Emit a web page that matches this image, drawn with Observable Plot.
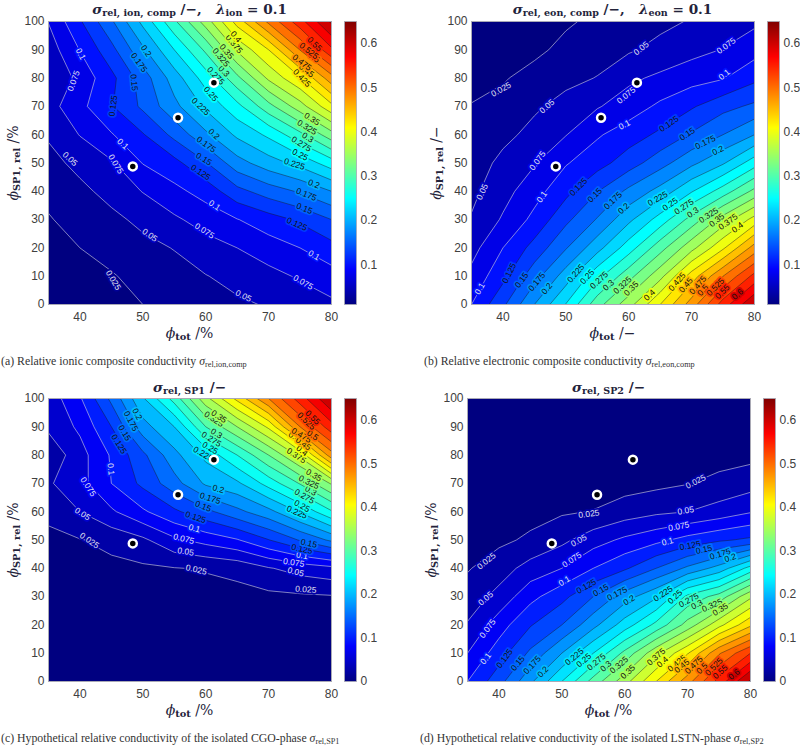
<!DOCTYPE html>
<html><head><meta charset="utf-8">
<script src="https://cdn.jsdelivr.net/npm/d3@7"></script>
<script src="https://cdn.jsdelivr.net/npm/@observablehq/plot@0.6"></script>
<style>
html,body{margin:0;padding:0;background:#fff}
#root{position:relative;width:800px;height:746px;overflow:hidden}
#root svg{position:absolute;background:none}
.t{position:absolute;white-space:nowrap;transform:translate(-50%,-50%);font-family:"DejaVu Serif",serif;color:#23233a}
.title{font-weight:bold;font-size:13.6px}
.ax{font-size:14px}
.ax b{font-weight:bold}
.cap{transform:translate(0,-50%);font-family:"Liberation Serif",serif;font-size:11.8px;color:#333}
sub{font-size:70%;line-height:0;vertical-align:-0.25em}
.rot{transform:translate(-50%,-50%) rotate(-90deg)}
</style></head><body><div id="root"></div>
<script>
// grid axes of every panel
const phiTot = [35,40,45,50,55,60,65,70,75,80];
const phiRel = [100,90,80,70,60,50,40,30,20,10,0];
const levels = [0,.025,.05,.075,.1,.125,.15,.175,.2,.225,.25,.275,.3,.325,.35,.375,.4,.425,.45,.475,.5,.525,.55,.575,.6,.625];

// conductivities, rows from phiRel = 100 down to 0
const sigmaIon = [
 .076,.122,.171,.232,.295,.362,.435,.506,.565,.63,
 .062,.101,.142,.195,.25,.305,.379,.425,.501,.57,
 .05,.083,.118,.162,.212,.262,.318,.38,.422,.49,
 .065,.093,.123,.155,.193,.23,.267,.316,.364,.418,
 .053,.076,.098,.123,.157,.195,.23,.255,.293,.34,
 .042,.057,.072,.101,.117,.148,.19,.214,.233,.263,
 .032,.044,.058,.076,.093,.11,.142,.162,.178,.2,
 .023,.035,.044,.056,.071,.085,.099,.114,.129,.15,
 .017,.025,.034,.043,.051,.065,.075,.088,.1,.116,
 .012,.017,.023,.033,.041,.049,.058,.067,.078,.09,
 .01,.013,.018,.025,.032,.039,.046,.052,.06,.07];
const sigmaEon = [
 .01,.012,.016,.022,.03,.037,.044,.052,.06,.07,
 .012,.016,.02,.031,.039,.047,.057,.067,.076,.09,
 .018,.023,.033,.043,.051,.07,.08,.09,.098,.119,
 .026,.032,.046,.059,.073,.087,.105,.122,.142,.155,
 .032,.043,.058,.074,.097,.113,.13,.153,.175,.2,
 .036,.057,.073,.098,.115,.138,.165,.194,.222,.264,
 .044,.066,.09,.118,.149,.181,.209,.248,.287,.332,
 .052,.078,.107,.144,.177,.219,.261,.31,.361,.41,
 .066,.1,.134,.173,.216,.263,.315,.367,.421,.486,
 .082,.118,.165,.212,.267,.316,.367,.437,.5,.558,
 .1,.145,.2,.251,.315,.365,.425,.487,.562,.625];
const sigmaSP1 = [
 .06,.097,.156,.222,.285,.367,.432,.5,.562,.625,
 .055,.08,.125,.19,.225,.3,.35,.405,.5,.565,
 .032,.065,.103,.144,.192,.232,.275,.325,.382,.49,
 .047,.066,.1,.131,.165,.204,.22,.26,.302,.353,
 .028,.05,.071,.096,.12,.143,.168,.192,.228,.272,
 .022,.024,.033,.045,.07,.084,.098,.124,.152,.18,
 .012,.014,.018,.021,.024,.027,.032,.048,.06,.068,
 .003,.005,.007,.009,.012,.015,.017,.019,.021,.023,
 .002,.002,.003,.004,.005,.006,.007,.008,.009,.01,
 .001,.001,.001,.002,.002,.002,.003,.003,.004,.004,
 0,0,0,0,0,0,0,0,0,0];
const sigmaSP2 = [
 .001,.001,.001,.001,.002,.002,.003,.003,.004,.005,
 .002,.002,.003,.003,.004,.005,.006,.007,.008,.01,
 .003,.004,.005,.006,.007,.008,.01,.012,.015,.018,
 .005,.006,.008,.01,.012,.015,.019,.024,.032,.0395,
 .01,.013,.017,.022,.026,.037,.045,.05,.06,.073,
 .018,.02,.029,.044,.064,.08,.093,.109,.121,.13,
 .023,.038,.06,.075,.1,.121,.15,.18,.21,.26,
 .036,.058,.092,.117,.15,.188,.221,.281,.31,.37,
 .052,.088,.123,.15,.192,.237,.282,.335,.392,.445,
 .075,.113,.155,.2,.25,.307,.368,.423,.497,.55,
 .1,.14,.195,.25,.31,.365,.425,.49,.56,.63];

// operating points
const pointTot = [48.4,55.6,61.3];
const pointRel = [48.8,66,78.4];

// contour labels: level, phiTot, phiRel
const labelsIon = [[.025,45.3,8.6],[.05,38.4,51.4],[.05,51.1,24.5],[.05,66,3],[.075,39,79],[.075,45.7,49.6],[.075,59.8,26],[.075,75.5,7.8],[.1,40.1,88.5],[.1,46.8,56.7],[.1,61.4,35],[.1,77.2,17.4],[.125,45.3,70.2],[.125,59.2,46.7],[.125,74.5,28.4],[.15,48.6,78.5],[.15,59.7,51.4],[.15,75.7,33.9],[.175,49.4,85.5],[.175,60.1,56.5],[.175,76,38.9],[.2,50.5,89.6],[.2,61.3,60.2],[.2,77.2,42.6],[.225,59.2,69.9],[.225,74.1,49.6],[.25,60.8,74.4],[.25,75,52.9],[.275,61.6,80.8],[.275,75.2,56.7],[.3,62.9,82.4],[.3,76.2,59],[.325,62.4,87.3],[.325,76.1,62.6],[.35,63.3,89.4],[.35,76.9,65.5],[.375,64.5,92],[.4,64.8,94.6],[.425,75.3,80],[.45,76,82.6],[.475,75.3,85.5],[.5,77.2,87.3],[.525,76.4,89.6],[.55,77.3,92]];
const labelsEon = [[.025,39.7,76],[.05,47,70],[.05,62,90.5],[.05,36.7,39.8],[.075,45.5,50.8],[.075,59.6,73.9],[.075,75.5,91.4],[.1,36.3,5.6],[.1,46.2,38],[.1,59.3,63.5],[.1,75.2,81.2],[.125,41,11],[.125,52,41.5],[.125,66.4,63.8],[.15,43,8.6],[.15,54.6,38.6],[.15,69.3,60.2],[.175,45.4,8],[.175,57.5,36.7],[.175,72.2,57.3],[.2,47,5.6],[.2,59.2,33.9],[.2,74.2,54.4],[.225,51.6,11],[.225,64.6,37.4],[.25,53.4,9.8],[.25,66.6,35.4],[.275,55.3,8.6],[.275,68.8,34.5],[.3,56.8,6.8],[.3,70.2,32.5],[.325,59,6.8],[.325,72.7,31.5],[.35,60.4,5.6],[.35,74,29.8],[.375,75.8,29.2],[.4,63.3,3.3],[.4,77.3,27.2],[.425,67.7,8],[.45,69.1,6.8],[.475,71,6.8],[.5,71.8,5],[.525,73.8,6.2],[.55,74.9,4.5],[.6,77.3,3.6]];
const labelsSP1 = [[.025,41.5,49.8],[.025,58.5,39.5],[.025,75.9,32.5],[.05,40.4,59.2],[.05,56.8,45.9],[.05,74.3,38.7],[.075,41.3,68.8],[.075,56.5,50.4],[.075,74,42],[.1,44.9,75],[.1,58.2,54.1],[.1,75.3,44.5],[.125,46.2,83.9],[.125,58.4,58],[.125,75.3,46.8],[.15,47.1,87.8],[.15,59.6,61.9],[.15,76.4,48.8],[.175,48.1,92],[.175,60.7,64.7],[.2,49.1,94.5],[.2,62,68],[.225,59.6,80.4],[.225,74.5,59.8],[.25,60.7,82.5],[.25,75.3,62],[.275,60.9,85.6],[.275,75.7,65.4],[.3,61.7,87.6],[.3,76.7,67.4],[.325,61.3,92.7],[.325,76.4,70.4],[.35,62.1,93.6],[.35,77.2,72.9],[.375,74.4,79.8],[.4,75.3,81.5],[.425,74.7,85.6],[.45,75.5,84],[.475,75.2,87],[.5,77,87],[.525,76,92],[.55,77,93.3]];
const labelsSP2 = [[.025,71.3,70.6],[.025,54.3,59.2],[.025,38,42.5],[.05,69.7,60.4],[.05,52.7,49.8],[.05,37.9,29.3],[.075,68.6,54.8],[.075,51.6,43],[.075,38.2,18.7],[.1,66.8,49.4],[.1,50.4,35.5],[.1,37.9,8.1],[.125,70.4,48],[.125,53.9,33.6],[.125,40.9,8.1],[.15,72.6,46.6],[.15,56.2,32.2],[.15,43,6.4],[.175,75.2,45],[.175,58.8,31],[.175,45.3,5.8],[.2,76.8,43.7],[.2,60.7,28.7],[.2,47,3.4],[.225,66.1,31],[.225,52,8.7],[.25,68,29.9],[.25,53.5,7.5],[.275,70.2,28.7],[.275,55.5,6.9],[.3,71.5,27.2],[.3,57,5.4],[.325,73.9,26.9],[.325,59.1,5.8],[.35,75.2,25.4],[.35,60.5,3.4],[.375,65,8.7],[.4,66,6.9],[.425,68.3,6.4],[.45,69.1,5.4],[.475,71,5.8],[.5,72.3,4.6],[.525,74.2,5.2],[.55,75.2,3.4],[.6,77.4,2.5]];

// jet colour map
const jetPos = [0,.125,.375,.625,.875,1];
const jetColors = ["#000080","#0000ff","#00ffff","#ffff00","#ff0000","#800000"];
const xTicks = [40,50,60,70,80];
const yTicks = [0,10,20,30,40,50,60,70,80,90,100];

const W = 283, H = 283;
const root = document.getElementById("root");
const font = {fontFamily:'"Liberation Sans",Arial,sans-serif',fontSize:"12px",color:"#404040",background:"none",overflow:"visible"};

function place(svg,left,top){svg.style.left=left+"px";svg.style.top=top+"px";root.appendChild(svg);}
function text(html,cls,x,y){const d=document.createElement("div");d.className="t "+cls;d.innerHTML=html;d.style.left=x+"px";d.style.top=y+"px";root.appendChild(d);}

function angleAt(values,x,y){
  const dx=phiTot[1]-phiTot[0], dy=phiRel[0]-phiRel[1];
  const nx=phiTot.length, ny=phiRel.length;
  const i=Math.min(nx-2,Math.floor((x-phiTot[0])/dx));
  const j=Math.min(ny-2,Math.floor((phiRel[0]-y)/dy));
  const u=(x-phiTot[i])/dx, w=(phiRel[j]-y)/dy;
  const v=(a,b)=>values[b*nx+a];
  const gx=((1-w)*(v(i+1,j)-v(i,j))+w*(v(i+1,j+1)-v(i,j+1)))/(dx*W/(phiTot[nx-1]-phiTot[0]));
  const gy=((1-u)*(v(i,j+1)-v(i,j))+u*(v(i+1,j+1)-v(i+1,j)))/(dy*H/(phiRel[0]-phiRel[ny-1]));
  let a=Math.atan2(gy,gx)*180/Math.PI+90;
  while(a>90)a-=180; while(a<-90)a+=180;
  return a;
}

function panel(o){
  const color={type:"linear",clamp:true,domain:jetPos.map(p=>o.lo+p*(.65-o.lo)),range:jetColors};
  const grid={width:phiTot.length,height:phiRel.length,x1:32.5,x2:82.5,y1:105,y2:-5,value:Plot.identity,clip:"frame"};
  const fmt=v=>String(+v.toFixed(3));
  const labelOpts=()=>({x:d=>d[1],y:d=>d[2],text:d=>fmt(d[0]),rotate:d=>angleAt(o.values,d[1],d[2]),fontSize:8.5,clip:"frame",
     stroke:d=>d[0],strokeWidth:3.5,strokeLinejoin:"round"});
  const fig=Plot.plot({
    width:W+36,height:H+25,marginLeft:30,marginRight:6,marginTop:3,marginBottom:22,style:font,
    x:{domain:[35,80],ticks:xTicks,label:null,tickSize:0,tickPadding:8},
    y:{domain:[0,100],ticks:yTicks,label:null,tickSize:0,tickPadding:4},
    color,
    marks:[
      Plot.contour(o.values,{...grid,thresholds:levels,fill:"value",stroke:"none"}),
      Plot.contour(o.values,{...grid,thresholds:levels.filter(l=>l>0&&l<=.1),stroke:"#c4c4dc",strokeWidth:.65,fill:"none"}),
      Plot.contour(o.values,{...grid,thresholds:levels.filter(l=>l>.1),stroke:"#1a1a1a",strokeWidth:.55,strokeOpacity:.8,fill:"none"}),
      Plot.text(o.labels.filter(d=>d[0]<=.1),{...labelOpts(),fill:"#e4e4f0"}),
      Plot.text(o.labels.filter(d=>d[0]>.1),{...labelOpts(),fill:"#111"}),
      Plot.dot(pointTot.map((x,i)=>[x,pointRel[i]]),{x:d=>d[0],y:d=>d[1],r:4,fill:"black",stroke:"white",strokeWidth:2.5}),
      Plot.frame({stroke:"#a9a9b5",strokeWidth:1})
    ]
  });
  place(fig,o.left-30,o.top-3);
  const bar=Plot.plot({
    width:12+30,height:H+4,marginLeft:0,marginRight:30,marginTop:2,marginBottom:2,style:font,
    x:{domain:[0,1],axis:null},
    y:{domain:[o.lo,.65],ticks:o.barTicks,tickFormat:d=>String(d),label:null,axis:"right",tickSize:0,tickPadding:4},
    color,
    marks:[
      Plot.raster({fill:(x,y)=>y,x1:0,x2:1,y1:o.lo,y2:.65,width:4,height:283}),
      Plot.frame({stroke:"#a9a9b5",strokeWidth:.8})
    ]
  });
  place(bar,o.barLeft,o.top-2);
  const c=o.left+W/2;
  text(o.title,"title",c,o.titleY);
  text(o.xLabel,"ax",c,o.top+H+29);
  text(o.yLabel,"ax rot",o.yLabelX,o.top+H/2);
  const cap=document.createElement("div");
  cap.className="t cap";cap.innerHTML=o.caption;cap.style.left=o.capX+"px";cap.style.top=o.capY+"px";root.appendChild(cap);
}

const sig=(s)=>`<i>σ</i><sub>${s}</sub>`;
panel({values:sigmaIon,labels:labelsIon,lo:.01,left:48,top:21,barLeft:344,barTicks:[.1,.2,.3,.4,.5,.6],
  title:`${sig("rel, ion, comp")} /−,&nbsp;&nbsp; <i>λ</i><sub>ion</sub> = 0.1`,titleY:9,
  xLabel:`<i>ϕ</i><sub><b>tot</b></sub> /%`,yLabel:`<i>ϕ</i><sub><b>SP1, rel</b></sub> /%`,yLabelX:13,
  caption:`(a) Relative ionic composite conductivity <i>σ</i><sub>rel,ion,comp</sub>`,capX:1,capY:361});
panel({values:sigmaEon,labels:labelsEon,lo:.01,left:471,top:21,barLeft:767,barTicks:[.1,.2,.3,.4,.5,.6],
  title:`${sig("rel, eon, comp")} /−,&nbsp;&nbsp; <i>λ</i><sub>eon</sub> = 0.1`,titleY:9,
  xLabel:`<i>ϕ</i><sub><b>tot</b></sub> /−`,yLabel:`<i>ϕ</i><sub><b>SP1, rel</b></sub> /−`,yLabelX:436,
  caption:`(b) Relative electronic composite conductivity <i>σ</i><sub>rel,eon,comp</sub>`,capX:424,capY:361});
panel({values:sigmaSP1,labels:labelsSP1,lo:0,left:48,top:398,barLeft:344,barTicks:[0,.1,.2,.3,.4,.5,.6],
  title:sig("rel, SP1")+" /−",titleY:387,
  xLabel:`<i>ϕ</i><sub><b>tot</b></sub> /%`,yLabel:`<i>ϕ</i><sub><b>SP1, rel</b></sub> /%`,yLabelX:13,
  caption:`(c) Hypothetical relative conductivity of the isolated CGO-phase <i>σ</i><sub>rel,SP1</sub>`,capX:1,capY:738});
panel({values:sigmaSP2,labels:labelsSP2,lo:0,left:467,top:398,barLeft:763,barTicks:[0,.1,.2,.3,.4,.5,.6],
  title:sig("rel, SP2")+" /−",titleY:387,
  xLabel:`<i>ϕ</i><sub><b>tot</b></sub> /%`,yLabel:`<i>ϕ</i><sub><b>SP1, rel</b></sub> /%`,yLabelX:431,
  caption:`(d) Hypothetical relative conductivity of the isolated LSTN-phase <i>σ</i><sub>rel,SP2</sub>`,capX:420,capY:738});
</script></body></html>
